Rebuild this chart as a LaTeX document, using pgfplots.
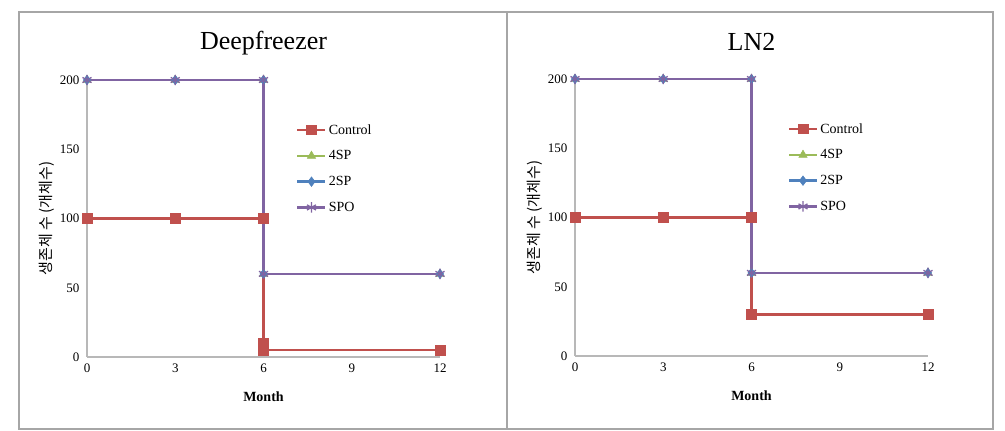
\documentclass[border=0pt]{standalone}
\usepackage{fontspec}
\setmainfont{Liberation Serif}
\newfontfamily\kr{Noto Sans CJK KR}
\usepackage{pgfplots}
\pgfplotsset{compat=1.18}
\definecolor{cCtrl}{HTML}{C0504D}
\definecolor{cFour}{HTML}{9BBB59}
\definecolor{cTwo}{HTML}{4F81BD}
\definecolor{cSpo}{HTML}{8064A2}
\pgfplotsset{
  panel/.style={
    scale only axis, width=353pt, height=277pt,
    xmin=0, xmax=12, ymin=0, ymax=200,
    axis x line*=bottom, axis y line*=left,
    axis line style={draw=black!28, line width=1.2pt, -},
    xtick={0,3,6,9,12}, ytick={0,50,100,150,200},
    major tick length=0pt,
    tick label style={font=\fontsize{13}{13}\selectfont},
    /pgf/number format/assume math mode=true,
    yticklabel style={xshift=-4pt},
    xticklabel style={yshift=-3pt},
    xlabel={\textbf{Month}},
    xlabel style={at={(axis description cs:0.5,-0.145)}, anchor=center, font=\fontsize{14}{14}\selectfont},
    ylabel={\kr 생존체 수 (개체수)},
    ylabel style={at={(axis description cs:-0.115,0.5)}, anchor=center, font=\fontsize{15}{15}\selectfont},
    title style={at={(axis description cs:0.5,1.112)}, anchor=center, font=\fontsize{26}{26}\selectfont},
    clip=false,
    legend cell align=left,
    legend style={draw=none, fill=none, anchor=north west,
      font=\fontsize{14}{14}\selectfont, row sep=11pt, inner xsep=0pt, inner ysep=0pt},
    legend image code/.code={\draw[mark repeat=2,mark phase=2,#1] plot coordinates {(0pt,0pt) (14pt,0pt) (28pt,0pt)};},
  },
  ctrl/.style={color=cCtrl, line width=2.6pt, mark=square*, mark size=4.8pt, mark options={solid, line width=0.5pt}},
  four/.style={color=cFour, line width=2.6pt, mark=triangle*, mark size=4.8pt, mark options={solid, line width=0.5pt}},
  two/.style={color=cTwo, line width=2.6pt, mark=diamond*, mark size=4.8pt, mark options={solid, line width=0.5pt}},
  spo/.style={color=cSpo, line width=2.6pt, mark=asterisk, mark size=5.2pt, mark options={solid, line width=1.3pt}},
}
\begin{document}
\begin{tikzpicture}
\path[use as bounding box] (0pt,0pt) rectangle (1005pt,431pt);
\draw[black!35, line width=1.5pt] (19pt,2pt) rectangle (993pt,419pt);
\draw[black!35, line width=1.5pt] (507pt,2pt) -- (507pt,419pt);

\begin{axis}[panel, at={(87pt,74pt)}, anchor=south west, title={Deepfreezer},
  legend style={at={(axis description cs:0.592,0.848)}}]
\addplot[ctrl] coordinates {(0,100) (3,100) (6,100) (6,10) (6,5) (12,5)};
\addplot[four] coordinates {(0,200) (3,200) (6,200) (6,60) (12,60)};
\addplot[two] coordinates {(0,200) (3,200) (6,200) (6,60) (12,60)};
\addplot[spo] coordinates {(0,200) (3,200) (6,200) (6,60) (12,60)};
\legend{Control,4SP,2SP,SPO}
\end{axis}

\begin{axis}[panel, at={(575pt,75pt)}, anchor=south west, title={LN2},
  legend style={at={(axis description cs:0.602,0.848)}}]
\addplot[ctrl] coordinates {(0,100) (3,100) (6,100) (6,30) (12,30)};
\addplot[four] coordinates {(0,200) (3,200) (6,200) (6,60) (12,60)};
\addplot[two] coordinates {(0,200) (3,200) (6,200) (6,60) (12,60)};
\addplot[spo] coordinates {(0,200) (3,200) (6,200) (6,60) (12,60)};
\legend{Control,4SP,2SP,SPO}
\end{axis}
\end{tikzpicture}
\end{document}
